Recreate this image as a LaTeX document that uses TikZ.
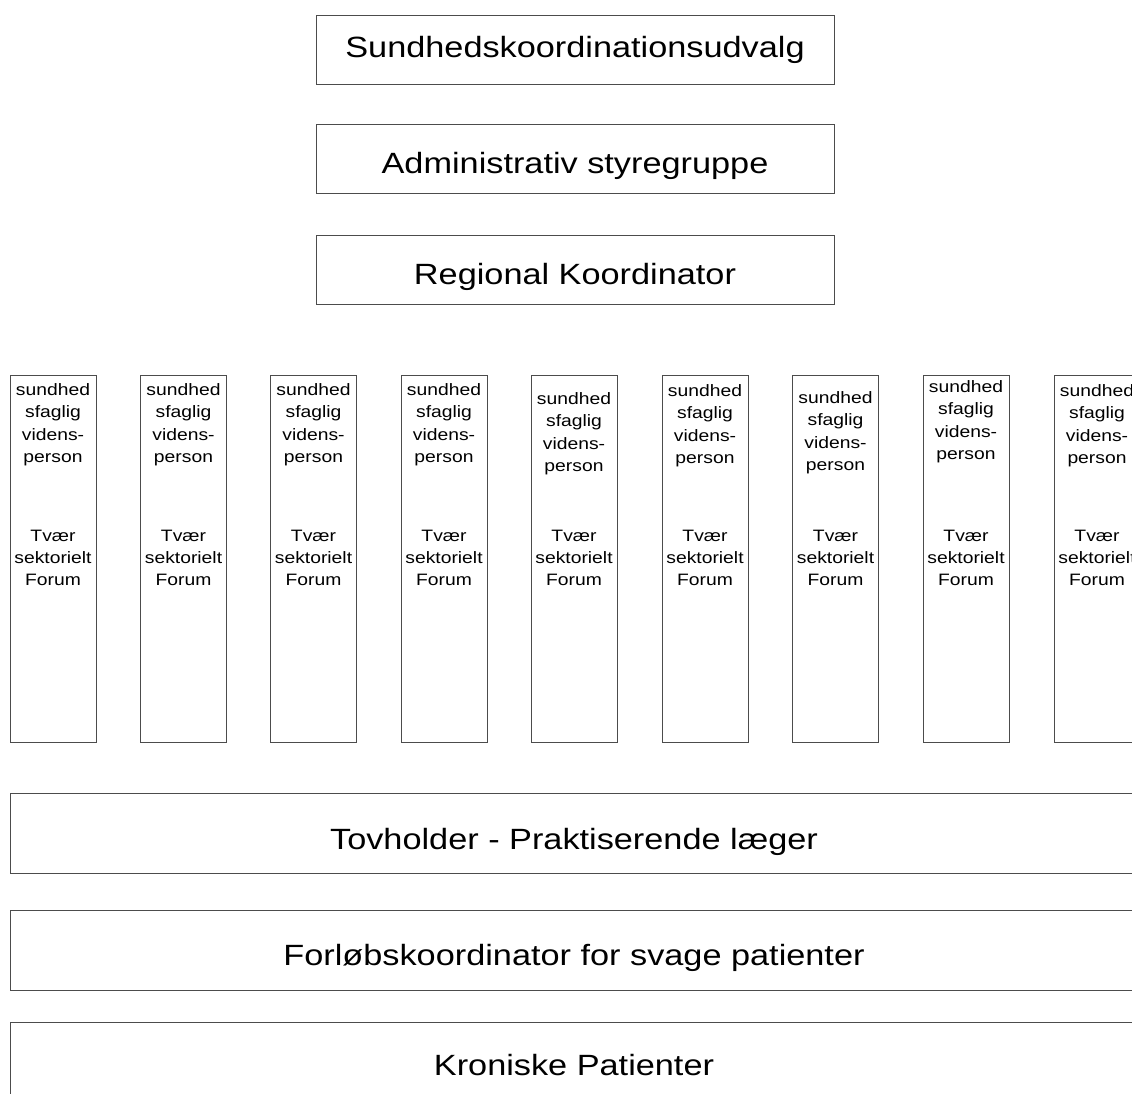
\documentclass[tikz,border=0pt]{standalone}
\usepackage{fontspec}
\setmainfont[FakeStretch=1.17]{Liberation Sans}
\usetikzlibrary{positioning}
\tikzset{
	box/.style={draw=black!70, line width=1pt, minimum width=518pt, minimum height=69pt, inner sep=0pt,
		font=\fontsize{29.3}{35}\selectfont, text height=20.5pt, text depth=5.6pt},
	lowbox/.style={box, text height=29pt, text depth=0pt},
	widebox/.style={box, minimum width=1128pt, minimum height=80pt, text height=31pt, text depth=0pt},
	column/.style={draw=black!70, line width=1pt, minimum width=86pt, minimum height=367pt, inner sep=0pt},
	coltext/.style={align=center, inner sep=0pt, font=\fontsize{16.5}{22.2}\selectfont}
}
\begin{document}
\begin{tikzpicture}[x=1pt,y=-1pt]
	\useasboundingbox (0,0) rectangle (1132,1094);
	\clip (0,0) rectangle (1132,1094);
	\node[box] (udvalg) at (575,50.5) {Sundhedskoordinationsudvalg};
	\node[lowbox] (styregruppe) at (575,159.5) {Administrativ styregruppe};
	\node[lowbox] (koordinator) at (575,269.5) {Regional Koordinator};
	\foreach \i/\cx/\dy in {1/53/0, 2/183.5/0, 3/313.5/0, 4/444/0, 5/574/9, 6/705/1, 7/835.5/8, 8/966/-3, 9/1097/1} {
		\pgfmathsetmacro\gap{9+\dy}
		\node[column] (col\i) at (\cx,558.5) {};
		\node[coltext, below=\gap pt of col\i.north] (viden\i) {sundhed\\sfaglig\\videns-\\person};
		\node[coltext, below=155pt of col\i.north] (forum\i) {Tvær\\sektorielt\\Forum};
	}
	\node[widebox] (tovholder) at (574,833.5) {Tovholder - Praktiserende læger};
	\node[widebox] (forloeb) at (574,950) {Forløbskoordinator for svage patienter};
	\node[widebox, text height=25pt] (patienter) at (574,1062.5) {Kroniske Patienter};
\end{tikzpicture}
\end{document}
